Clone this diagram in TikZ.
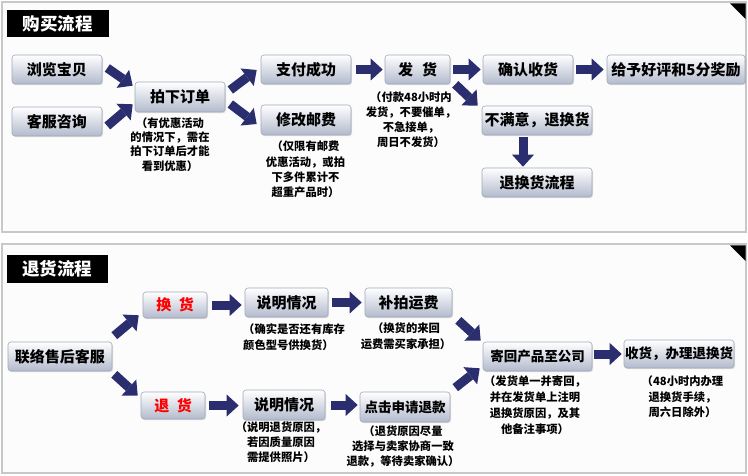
\documentclass[tikz,border=0pt]{standalone}
\usepackage{fontspec}
\setmainfont{Noto Sans CJK SC}
\usetikzlibrary{arrows.meta,calc,shadows}
\definecolor{navy}{RGB}{42,46,110}
\definecolor{panelbg}{RGB}{253,252,253}
\definecolor{panelline}{RGB}{200,200,200}
\definecolor{boxbot}{RGB}{178,186,204}
\definecolor{boxline}{RGB}{160,168,184}
\tikzset{
  box/.style={rectangle, rounded corners=3pt, top color=white, bottom color=boxbot,
    draw=boxline, line width=0.6pt, inner sep=0pt, minimum height=29pt,
    font=\fontsize{15}{18}\selectfont\bfseries,
    drop shadow={opacity=0.25, shadow xshift=1pt, shadow yshift=-1.2pt}},
  boxs/.style={box, font=\fontsize{13.5}{16}\selectfont\bfseries},
  note/.style={inner sep=0pt, align=center, anchor=north, font=\fontsize{11.3}{#1}\selectfont\bfseries},
  note/.default=15,
  flow/.style={draw=navy, line width=9pt, -{Triangle[length=12pt,width=22pt,line width=0pt]}},
  panel/.style={draw=panelline, line width=1.5pt, fill=panelbg},
  titlebox/.style={fill=black, text=white, inner sep=0pt, font=\fontsize{17.5}{20}\selectfont\bfseries},
}
\begin{document}
\begin{tikzpicture}[x=1pt,y=-1pt]
\fill[white] (0,0) rectangle (748,476);
\useasboundingbox (0,0) rectangle (748,476);
\draw[panel] (2,2) rectangle (746,232);
\draw[panel] (2,244) rectangle (746,473);
\fill[black] (730,3.5) -- (745.5,3.5) -- (745.5,19) -- cycle;
\fill[black] (730,245.5) -- (745.5,245.5) -- (745.5,261) -- cycle;

\node[titlebox, minimum width=102pt, minimum height=27pt] (t1) at (58,23.5) {购买流程};
\node[titlebox, minimum width=101pt, minimum height=28pt] (t2) at (57.5,269) {退货流程};

% top flow
\node[box, minimum width=90pt] (liulan) at (57,69.5) {浏览宝贝};
\node[box, minimum width=90pt] (kefu) at (57,121.5) {客服咨询};
\node[box, minimum width=90pt, minimum height=30pt] (paixia) at (180,97) {拍下订单};
\node[box, minimum width=90pt] (zhifu) at (306,69.5) {支付成功};
\node[box, minimum width=90pt, minimum height=30pt] (xiugai) at (306,120) {修改邮费};
\node[box, minimum width=65pt] (fahuo) at (417.5,69.5) {发\hspace{0.6em}货};
\node[box, minimum width=90pt] (queren) at (528,69.5) {确认收货};
\node[box, minimum width=138pt] (geiyu) at (676,69.5) {给予好评和5分奖励};
\node[box, minimum width=110pt] (bumanyi) at (537,120.5) {不满意，退换货};
\node[box, minimum width=110pt] (tuihuan) at (537,182.5) {退换货流程};

\node[note=14.2] (n1) at (170,117.5) {（有优惠活动\\的情况下，需在\\拍下订单后才能\\看到优惠）};
\node[note=15.3] (n2) at (305.5,141) {（仅限有邮费\\优惠活动，或拍\\下多件累计不\\超重产品时）};
\node[note=15] (n3) at (411,92) {（付款48小时内\\发货，不要催单，\\不急接单，\\周日不发货）};

\draw[flow] ($(liulan.east)+(5,-1.5)$) -- ($(paixia.north west)+(-2,4)$);
\draw[flow] ($(kefu.east)+(5,4.5)$) -- ($(paixia.south west)+(-2,-8)$);
\draw[flow] ($(paixia.east)+(5,-7)$) -- ($(zhifu.west)+(-4,0.5)$);
\draw[flow] ($(paixia.east)+(5,7)$) -- ($(xiugai.west)+(-4,4)$);
\draw[flow] ($(zhifu.east)+(5,0)$) -- ($(fahuo.west)+(-2,0)$);
\draw[flow] ($(fahuo.east)+(3,0)$) -- ($(queren.west)+(-2,0)$);
\draw[flow] ($(fahuo.south east)+(5,0)$) -- ($(bumanyi.north west)+(-4,0)$);
\draw[flow] ($(queren.east)+(3,0)$) -- ($(geiyu.west)+(-3,0)$);
\draw[flow] ($(bumanyi.south)+(-14,2)$) -- ($(tuihuan.north)+(-14,-1)$);

% bottom flow
\node[box, minimum width=104pt] (lianluo) at (60,356.5) {联络售后客服};
\node[box, minimum width=64pt, minimum height=26pt, text=red] (huanhuo) at (175,305) {换\hspace{0.5em}货};
\node[box, minimum width=64pt, minimum height=27pt, text=red] (tuihuo) at (173,405.5) {退\hspace{0.5em}货};
\node[box, minimum width=83pt] (sm1) at (286.5,302.5) {说明情况};
\node[box, minimum width=87pt] (bupai) at (408.5,302.5) {补拍运费};
\node[box, minimum width=82pt, minimum height=30pt] (sm2) at (284,405) {说明情况};
\node[boxs, minimum width=90pt, minimum height=30pt] (dianji) at (405,407) {点击申请退款};
\node[boxs, minimum width=109pt] (jihui) at (537.5,356.5) {寄回产品至公司};
\node[boxs, minimum width=110pt, minimum height=28pt] (shouhuo) at (679,354) {收货，办理退换货};

\node[note=16, anchor=north west, align=left] (n4) at (243,323) {（确实是否还有库存\\颜色型号供换货）};
\node[note=16] (n5) at (406,323) {（换货的来回\\运费需买家承担）};
\node[note=15] (n6) at (281,422) {（说明退货原因，\\若因质量原因\\需提供照片）};
\node[note=14.8] (n7) at (403,426) {（退货原因尽量\\选择与卖家协商一致\\退款，等待卖家确认）};
\node[note=16] (n8) at (535,376) {（发货单一并寄回，\\并在发货单上注明\\退换货原因，及其\\他备注事项）};
\node[note=15.5] (n9) at (682.5,376) {（48小时内办理\\退换货手续，\\周六日除外）};

\draw[flow] ($(lianluo.north east)+(2,-6)$) -- ($(huanhuo.south west)+(-4,-3)$);
\draw[flow] ($(lianluo.south east)+(2,3)$) -- ($(tuihuo.north west)+(-3,4)$);
\draw[flow] ($(huanhuo.east)+(5,0)$) -- ($(sm1.west |- huanhuo.east)+(-3,0)$);
\draw[flow] ($(tuihuo.east)+(4,0)$) -- ($(sm2.west |- tuihuo.east)+(-4,0)$);
\draw[flow] ($(sm1.east)+(4,0)$) -- ($(bupai.west)+(-3,0)$);
\draw[flow] ($(sm2.east)+(6,0)$) -- ($(dianji.west |- sm2.east)+(-2,0)$);
\draw[flow] ($(bupai.south east)+(6,3)$) -- ($(jihui.north west)+(-2,-1)$);
\draw[flow] ($(dianji.north east)+(5,-4)$) -- ($(jihui.south west)+(-3,-3)$);
\draw[flow] ($(jihui.east |- shouhuo.west)+(2,0)$) -- ($(shouhuo.west)+(-2,0)$);
\end{tikzpicture}
\end{document}
